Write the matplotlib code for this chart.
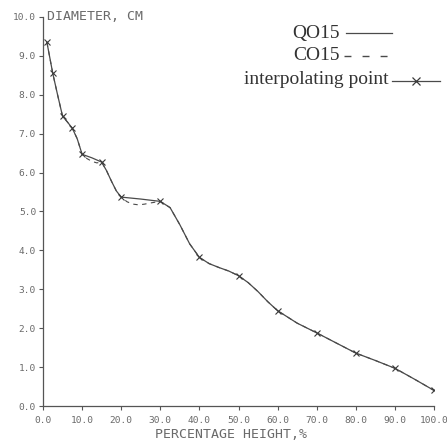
import numpy as np
import matplotlib.pyplot as plt
from matplotlib.lines import Line2D

# interpolating points (percentage height, diameter cm)
pt_x = [1, 2.5, 5, 7.5, 10, 15, 20, 30, 40, 50, 60, 70, 80, 90, 100]
pt_y = [9.35, 8.55, 7.45, 7.14, 6.47, 6.27, 5.37, 5.26, 3.82, 3.35, 2.45, 1.88, 1.36, 0.97, 0.40]

# QO15 curve (solid)
qo_x = [1, 2.5, 3.75, 5, 6.25, 7.5, 8.75, 10, 12.5, 15, 16.25, 17.5, 18.75, 20, 25, 30,
        32.5, 35, 37.5, 40, 42.5, 45, 47.5, 50, 52.5, 55, 57.5, 60, 65, 70, 75, 80, 85, 90, 95, 100]
qo_y = [9.35, 8.55, 7.99, 7.45, 7.30, 7.14, 6.87, 6.47, 6.38, 6.27, 6.05, 5.78, 5.53, 5.37, 5.32, 5.26,
        5.10, 4.66, 4.17, 3.82, 3.66, 3.56, 3.47, 3.35, 3.17, 2.94, 2.68, 2.45, 2.13, 1.88, 1.62, 1.36, 1.17, 0.97, 0.69, 0.40]

# CO15 curve (dashed)
co_x = [1, 2.5, 3.75, 5, 6.25, 7.5, 8.75, 10, 11.25, 12.5, 13.75, 15, 16.25, 17.5, 18.75, 20,
        21.5, 23, 24.5, 26, 27.5, 30, 32.5, 35, 37.5, 40, 42.5, 45, 47.5, 50, 52.5, 55, 57.5, 60,
        65, 70, 75, 80, 85, 90, 95, 100]
co_y = [9.35, 8.55, 7.99, 7.45, 7.30, 7.14, 6.87, 6.47, 6.36, 6.29, 6.25, 6.27, 6.05, 5.78, 5.53, 5.37,
        5.25, 5.19, 5.17, 5.19, 5.22, 5.26, 5.10, 4.66, 4.17, 3.82, 3.66, 3.56, 3.47, 3.35, 3.17, 2.94, 2.68, 2.45,
        2.13, 1.88, 1.62, 1.36, 1.17, 0.97, 0.69, 0.40]

x_ticks = np.arange(0, 101, 10)
y_ticks = np.arange(0, 11, 1)

W = 447.0
mono = 'DejaVu Sans Mono'
ink = '#4a4a4a'

fig = plt.figure(figsize=(4.47, 4.47), dpi=100)
ax = fig.add_axes([43 / W, 1 - 406 / W, 391 / W, 389 / W])

ax.plot(qo_x, qo_y, color=ink, lw=0.9)
ax.plot(co_x, co_y, color=ink, lw=0.8, ls=(0, (4, 4)))
ax.plot(pt_x, pt_y, ls='none', marker='x', ms=4.5, mew=0.8, color='#3a3a3a')

ax.set_xlim(0, 100)
ax.set_ylim(0, 10)
ax.set_xticks(x_ticks)
ax.set_xticklabels(['%.1f' % v for v in x_ticks], family=mono)
ax.set_yticks(y_ticks)
ax.set_yticklabels(['%.1f' % v for v in y_ticks], family=mono)
ax.tick_params(direction='out', length=3, width=0.8, colors='#555555',
               labelcolor='#6a6a6a', labelsize=6.8)
ax.tick_params(axis='x', pad=4)
ax.tick_params(axis='y', pad=2)
for s in ['top', 'right']:
    ax.spines[s].set_visible(False)
for s in ['left', 'bottom']:
    ax.spines[s].set_color('#555555')
    ax.spines[s].set_linewidth(0.9)

ax.text(0.01, 1.0, 'DIAMETER, CM', transform=ax.transAxes, ha='left', va='center',
        family=mono, fontsize=9.5, color='#6a6a6a')
fig.text(231 / W, 1 - 435 / W, 'PERCENTAGE HEIGHT,%', ha='center', va='center',
         family=mono, fontsize=9.5, color='#6a6a6a')

# legend drawn by hand: centred text, sample after it
serif = 'Liberation Serif'
def fx(p):
    return p / W
def fy(p):
    return 1 - p / W

fig.text(fx(316), fy(38), 'QO15', ha='center', va='baseline', family=serif, fontsize=14, color='#333333')
fig.text(fx(316), fy(60.5), 'CO15', ha='center', va='baseline', family=serif, fontsize=14, color='#333333')
fig.text(fx(316), fy(84), 'interpolating point', ha='center', va='baseline', family=serif, fontsize=14, color='#333333')

fig.add_artist(Line2D([fx(346), fx(392)], [fy(33), fy(33)], color=ink, lw=0.9))
fig.add_artist(Line2D([fx(344), fx(392)], [fy(56), fy(56)], color=ink, lw=1.0, ls=(0, (5, 8))))
fig.add_artist(Line2D([fx(392), fx(440)], [fy(81), fy(81)], color=ink, lw=0.9))
fig.add_artist(Line2D([fx(416)], [fy(81)], color='#3a3a3a', ls='none', marker='x', ms=6, mew=0.9))

plt.savefig('out.png', dpi=100)
